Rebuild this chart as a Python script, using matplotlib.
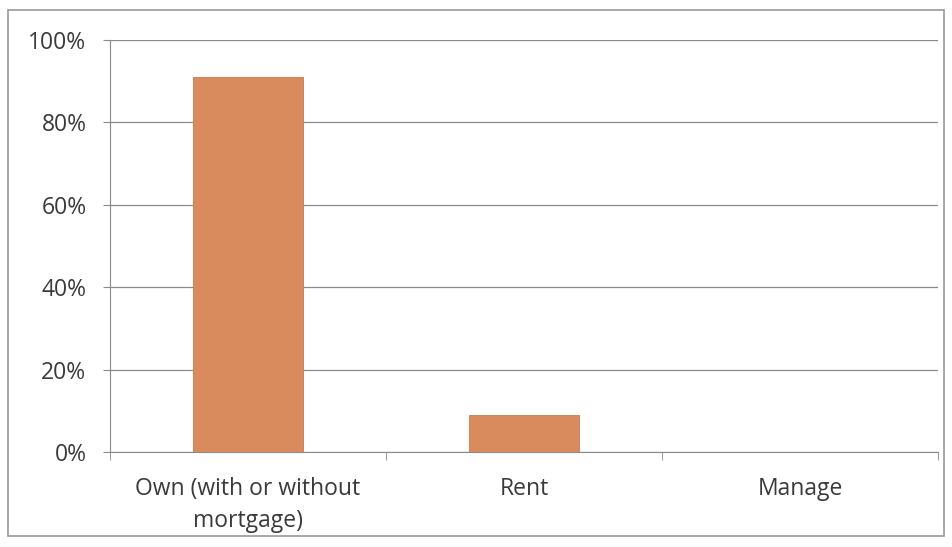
import matplotlib
matplotlib.use("Agg")
import matplotlib.pyplot as plt
from matplotlib.patches import Rectangle
from matplotlib.ticker import FixedLocator, FuncFormatter

categories = ["Own (with or without\nmortgage)", "Rent", "Manage"]
values = [91, 9, 0]
yticks = [0, 20, 40, 60, 80, 100]

W, H = 953, 547
fig = plt.figure(figsize=(W/100, H/100), dpi=100)
fig.patch.set_facecolor("white")

# outer frame
fig.add_artist(Rectangle((8/W, 1-536/H), (944-8)/W, (536-10)/H, transform=fig.transFigure,
                         fill=False, edgecolor="#9a9a9a", linewidth=1.2))

left, right, top, bottom = 110, 938, 40, 452
ax = fig.add_axes([left/W, 1-bottom/H, (right-left)/W, (bottom-top)/H])
x = list(range(len(categories)))
ax.bar(x, values, width=0.4, color="#D98B5E", edgecolor="#C97A4E", linewidth=0.6, zorder=3)
ax.set_xlim(-0.5, 2.5)
ax.set_ylim(0, 100)
ax.yaxis.set_major_locator(FixedLocator(yticks))
ax.yaxis.set_major_formatter(FuncFormatter(lambda v, p: f"{int(v)}%"))
ax.grid(axis="y", color="#8a8a8a", linewidth=0.9, zorder=0)
for s in ["top", "right"]:
    ax.spines[s].set_visible(False)
ax.spines["left"].set_color("#8a8a8a")
ax.spines["bottom"].set_color("#8a8a8a")
ax.set_xticks(x)
ax.set_xticklabels(categories, fontsize=16.5, color="#3a3a3a", family="Open Sans", linespacing=1.45)
ax.tick_params(axis="x", length=0, pad=18)
ax.xaxis.set_minor_locator(FixedLocator([-0.5, 0.5, 1.5, 2.5]))
ax.tick_params(axis="x", which="minor", length=6, color="#8a8a8a")
ax.tick_params(axis="y", length=5, color="#8a8a8a", labelsize=16.5, labelcolor="#3a3a3a", pad=12)
for lab in ax.get_yticklabels():
    lab.set_family("Open Sans")

fig.savefig("out.png", dpi=100)
